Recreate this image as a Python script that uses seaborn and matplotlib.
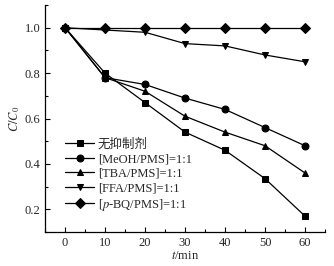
import numpy as np
import pandas as pd
import matplotlib
matplotlib.use('Agg')
import matplotlib.pyplot as plt
from matplotlib.ticker import MultipleLocator
import seaborn as sns

# data
time = [0, 10, 20, 30, 40, 50, 60]
none_inh = [1.0, 0.80, 0.67, 0.54, 0.46, 0.335, 0.17]
meoh = [1.0, 0.78, 0.75, 0.69, 0.64, 0.56, 0.48]
tba = [1.0, 0.78, 0.72, 0.61, 0.54, 0.48, 0.36]
ffa = [1.0, 0.99, 0.98, 0.93, 0.92, 0.88, 0.85]
pbq = [1.0, 1.0, 1.0, 1.0, 1.0, 1.0, 1.0]
labels = ['无抑制剂', '[MeOH/PMS]=1:1', '[TBA/PMS]=1:1', '[FFA/PMS]=1:1', '[$p$-BQ/PMS]=1:1']
markers = ['s', 'o', '^', 'v', 'D']

sns.set_style('ticks')
plt.rcParams['font.family'] = ['Liberation Serif', 'Noto Sans CJK SC']
plt.rcParams['mathtext.fontset'] = 'stix'

# long-form table for seaborn
series = [none_inh, meoh, tba, ffa, pbq]
df = pd.DataFrame({
    'time': time * len(series),
    'value': sum(series, []),
    'group': np.repeat(labels, len(time)),
})

fig, ax = plt.subplots(figsize=(3.34, 2.66), dpi=100)
fig.subplots_adjust(left=0.135, right=0.973, bottom=0.128, top=0.981)

sns.lineplot(data=df, x='time', y='value', hue='group', style='group',
             hue_order=labels, style_order=labels,
             palette=['black'] * 5, markers=dict(zip(labels, markers)),
             dashes=False, markersize=5, markeredgecolor='black',
             linewidth=0.9, ax=ax)

ax.set_xlim(-5, 65)
ax.set_ylim(0.1, 1.1)
ax.xaxis.set_major_locator(MultipleLocator(10))
ax.xaxis.set_minor_locator(MultipleLocator(5))
ax.yaxis.set_major_locator(MultipleLocator(0.2))
ax.yaxis.set_minor_locator(MultipleLocator(0.1))
ax.set_yticks([0.2, 0.4, 0.6, 0.8, 1.0])
ax.set_yticklabels(['0.2', '0.4', '0.6', '0.8', '1.0'])
ax.tick_params(which='both', direction='in', labelsize=9, width=0.8, color='black')
ax.tick_params(which='major', length=3.5)
ax.tick_params(which='minor', length=2)
for s in ['top', 'right']:
    ax.spines[s].set_visible(False)
for s in ['left', 'bottom']:
    ax.spines[s].set_linewidth(0.9)
    ax.spines[s].set_color('black')

ax.set_xlabel('$t$/min', fontsize=9, labelpad=1)
ax.set_ylabel('$C/C_0$', fontsize=9, labelpad=2)

leg = ax.legend(loc='upper left', bbox_to_anchor=(0.05, 0.44), frameon=False,
                fontsize=9, handlelength=2.3, handletextpad=0.3,
                labelspacing=0.2, borderpad=0)

fig.savefig('out.png', dpi=100)
